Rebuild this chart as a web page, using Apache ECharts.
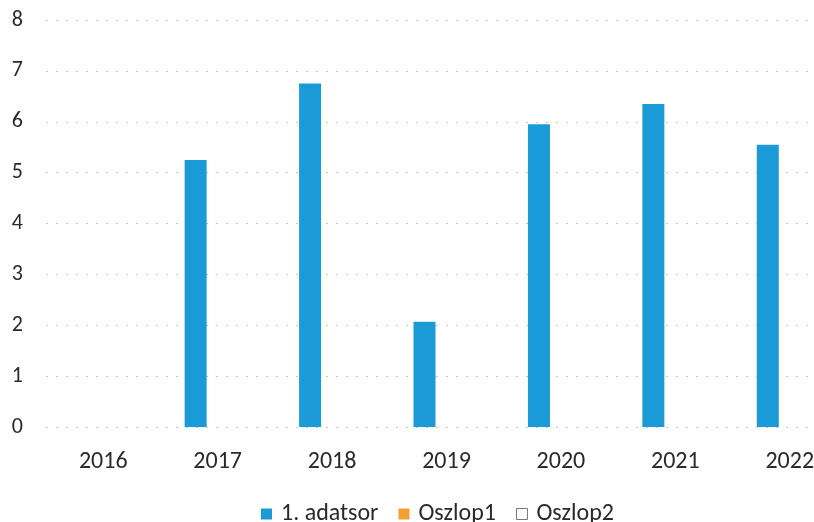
<!DOCTYPE html>
<html><head><meta charset="utf-8">
<script src="https://cdn.jsdelivr.net/npm/echarts@6/dist/echarts.min.js"></script>
<style>html,body{margin:0;padding:0;background:#fff;overflow:hidden;width:814px;height:522px}#c{width:850px;height:522px}</style>
</head><body><div id="c"></div>
<script>
const categories = ['2016','2017','2018','2019','2020','2021','2022'];
const adatsor = [null, 5.25, 6.75, 2.07, 5.95, 6.35, 5.55];
const oszlop1 = [null, null, null, null, null, null, null];
const oszlop2 = [null, null, null, null, null, null, null];
const yTicks = [0,1,2,3,4,5,6,7,8];

const chart = echarts.init(document.getElementById('c'), null, {renderer:'canvas'});
const font = 'Carlito, "Open Sans", "Liberation Sans", sans-serif';
chart.setOption({
  animation:false,
  grid:{left:46, right:3, top:20, bottom:95},
  xAxis:{type:'category', data:categories,
    axisLine:{show:false}, axisTick:{show:false},
    axisLabel:{color:'#2a2a2a', fontSize:24, fontFamily:font, margin:23}},
  yAxis:{type:'value', min:yTicks[0], max:yTicks[yTicks.length-1], interval:1,
    axisLine:{show:false}, axisTick:{show:false},
    axisLabel:{color:'#2a2a2a', fontSize:22, fontFamily:font, margin:23},
    splitLine:{lineStyle:{color:'#c8c8c8', type:[2,8], width:1}}},
  legend:{top:497, left:256, icon:'rect', itemWidth:11, itemHeight:11, itemGap:20,
    textStyle:{color:'#2a2a2a', fontSize:24, fontFamily:font, padding:[0,0,0,4]},
    data:[{name:'1. adatsor'},{name:'Oszlop1'},{name:'Oszlop2', itemStyle:{color:'#fff', borderColor:'#777', borderWidth:1}}]},
  series:[
    {name:'1. adatsor', type:'bar', data:adatsor, barWidth:22, barGap:'0%', itemStyle:{color:'#1A9BD8'}},
    {name:'Oszlop1', type:'bar', data:oszlop1, barWidth:22, barGap:'0%', itemStyle:{color:'#F2A033'}},
    {name:'Oszlop2', type:'bar', data:oszlop2, barWidth:22, barGap:'0%', itemStyle:{color:'#fff', borderColor:'#777'}}
  ]
});
</script></body></html>
